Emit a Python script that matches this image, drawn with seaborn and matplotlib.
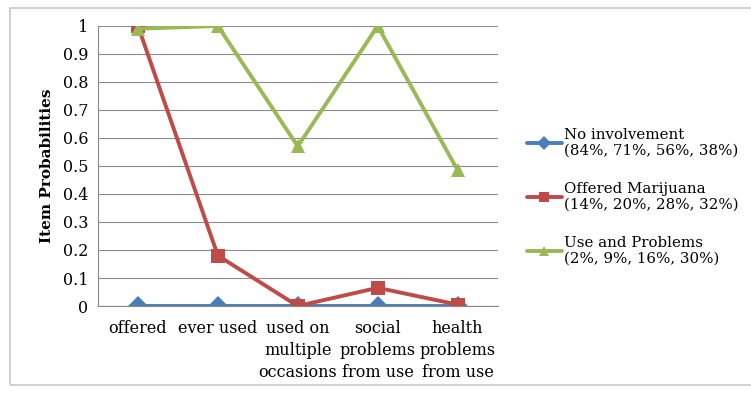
import numpy as np
import pandas as pd
import matplotlib.pyplot as plt
import seaborn as sns
from matplotlib.patches import Rectangle

items = ["offered", "ever used", "used on\nmultiple\noccasions",
         "social\nproblems\nfrom use", "health\nproblems\nfrom use"]
no_involvement = [0.0, 0.0, 0.0, 0.0, 0.0]
offered_marijuana = [1.0, 0.18, 0.0, 0.065, 0.005]
use_and_problems = [0.99, 1.0, 0.57, 1.0, 0.485]
class_names = ["No involvement\n(84%, 71%, 56%, 38%)",
               "Offered Marijuana\n(14%, 20%, 28%, 32%)",
               "Use and Problems\n(2%, 9%, 16%, 30%)"]

df = pd.DataFrame({
    "pos": list(range(len(items))) * 3,
    "prob": no_involvement + offered_marijuana + use_and_problems,
    "cls": np.repeat(class_names, len(items)),
})

sns.set_style("white")
plt.rcParams['font.family'] = ['DejaVu Serif']
plt.rcParams['text.color'] = 'black'
plt.rcParams['xtick.color'] = 'black'
plt.rcParams['ytick.color'] = 'black'
plt.rcParams['axes.labelcolor'] = 'black'

fig = plt.figure(figsize=(7.51, 3.95), dpi=100)
fig.patches.append(Rectangle((0.013, 0.025), 0.99, 0.955, transform=fig.transFigure,
                             fill=False, edgecolor="#c8c8c8", linewidth=1.2))
ax = fig.add_axes([0.1305, 0.2253, 0.532, 0.709])

palette = {class_names[0]: "#4a7ebb", class_names[1]: "#be4b48", class_names[2]: "#98b954"}
markers = {class_names[0]: "D", class_names[1]: "s", class_names[2]: "^"}
sns.lineplot(data=df, x="pos", y="prob", hue="cls", style="cls", palette=palette,
             markers=markers, dashes=False, linewidth=2.8, markersize=10.5,
             markeredgewidth=0, ax=ax)

ax.set_xlim(-0.5, 4.5)
ax.set_ylim(0, 1)
ax.set_yticks(np.arange(0, 1.01, 0.1))
ax.set_yticklabels(["0", "0.1", "0.2", "0.3", "0.4", "0.5", "0.6", "0.7", "0.8", "0.9", "1"],
                   fontsize=11.5)
ax.set_xticks(range(len(items)))
ax.set_xticklabels(items, fontsize=11.5, linespacing=1.38)
ax.tick_params(axis="x", length=0, pad=10)
ax.tick_params(axis="y", length=0, pad=7)
ax.set_xticks(np.arange(-0.5, 4.6, 1), minor=True)
ax.tick_params(axis="x", which="minor", length=5, direction="out", color="#888888", width=0.8)
ax.grid(axis="y", color="#8c8c8c", linewidth=0.8)
ax.set_axisbelow(True)
for s in ["top", "right"]:
    ax.spines[s].set_visible(False)
for s in ["left", "bottom"]:
    ax.spines[s].set_color("#888888")
    ax.spines[s].set_linewidth(0.8)
ax.set_xlabel("")
ax.set_ylabel("Item Probabilities", fontsize=11, fontweight="bold", labelpad=6)

leg = ax.legend(loc="center left", bbox_to_anchor=(1.04, 0.39), frameon=False, fontsize=10.8,
                handlelength=2.3, handletextpad=0.15, labelspacing=1.6)
for h in leg.legend_handles:
    h.set_markersize(7)
for t in leg.get_texts():
    t.set_linespacing(1.15)

fig.savefig("out.png", dpi=100)
